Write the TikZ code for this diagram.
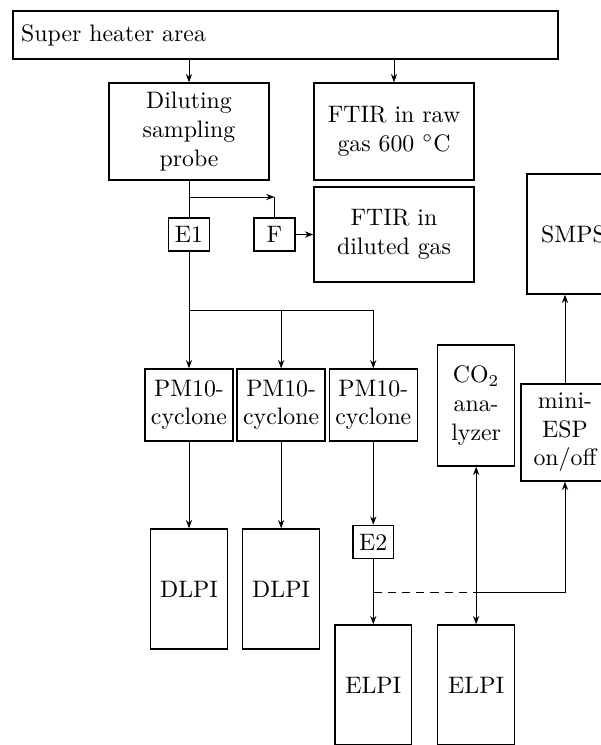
\documentclass[tikz,border=0pt]{standalone}
\usetikzlibrary{arrows.meta, positioning}

\begin{document}
\begin{tikzpicture}[
    x=0.42pt, y=-0.42pt,
    box/.style={draw, semithick, align=center, inner sep=2pt},
    wide/.style={box, minimum width=67.2pt, minimum height=40.7pt},
    cyclone/.style={box, minimum width=37pt, minimum height=30.2pt},
    tall/.style={box, minimum width=32.3pt, minimum height=50.4pt},
    tag/.style={box, minimum width=17.2pt, minimum height=13.9pt},
    arrow/.style={-{Stealth[length=3.5pt, width=2.6pt]}, thin},
    twoway/.style={{Stealth[length=3.5pt, width=2.6pt]}-{Stealth[length=3.5pt, width=2.6pt]}, thin},
    pipe/.style={thin}
]
\useasboundingbox (0,0) rectangle (600,745);

% sampling line
\node[box, minimum width=228.9pt, minimum height=20.2pt, text width=222pt, align=left] (heater) at (285.5,35) {Super heater area};
\node[wide] (probe) at (189,131.5) {Diluting\\sampling\\probe};
\node[wide] (rawftir) at (394,131.5) {FTIR in raw\\gas 600 $^\circ$C};
\node[wide, minimum height=40pt] (dilftir) at (394,234.5) {FTIR in\\diluted gas};
\node[box, minimum width=39pt, minimum height=50.4pt] (smps) at (573.5,234) {SMPS};
\node[tag] (e1) at (189,234.5) {E1};
\node[tag] (filter) at (274.5,234.5) {F};

% cyclones and impactors
\node[cyclone] (pm1) at (189,405) {PM10-\\cyclone};
\node[cyclone, right=1.1pt of pm1] (pm2) {PM10-\\cyclone};
\node[cyclone, right=1.1pt of pm2] (pm3) {PM10-\\cyclone};
\node[tall] (dlpi1) at (189,589) {DLPI};
\node[tall] (dlpi2) at (pm2 |- dlpi1) {DLPI};
\node[tag] (e2) at (pm3 |- 0,542) {E2};
\node[tall] (elpi1) at (pm3 |- 0,685) {ELPI};
\node[tall, right=10.3pt of elpi1] (elpi2) {ELPI};
\node[box, minimum width=32.3pt, minimum height=50.8pt] (co2) at (elpi2 |- 0,405.5) {CO$_2$\\ana-\\lyzer};
\node[box, minimum width=37pt, minimum height=40.7pt] (esp) at (565,432.5) {mini-\\ESP\\on/off};

\coordinate (split) at (189,197);
\coordinate (fbend) at (274.5,197);
\coordinate (manifold) at (189,310);
\coordinate (tap) at (pm3 |- 0,592);
\coordinate (junction) at (elpi2 |- 0,592);

\draw[arrow] (heater.south -| probe) -- (probe);
\draw[arrow] (heater.south -| rawftir) -- (rawftir);
\draw[pipe] (probe) -- (e1);
\draw[arrow] (split) -- (fbend);
\draw[pipe] (fbend) -- (filter);
\draw[arrow] (filter) -- (dilftir);

\draw[arrow] (e1) -- (pm1);
\draw[arrow] (manifold) -| (pm2);
\draw[arrow] (manifold) -| (pm3);
\draw[arrow] (pm1) -- (dlpi1);
\draw[arrow] (pm2) -- (dlpi2);
\draw[arrow] (pm3) -- (e2);
\draw[arrow] (e2) -- (elpi1);

\draw[pipe, dash pattern=on 3.5pt off 2.5pt] (tap) -- (junction);
\draw[arrow] (junction) -| (esp);
\draw[arrow] (esp) -- (esp |- smps.south);
\draw[twoway] (co2) -- (elpi2);
\end{tikzpicture}
\end{document}
